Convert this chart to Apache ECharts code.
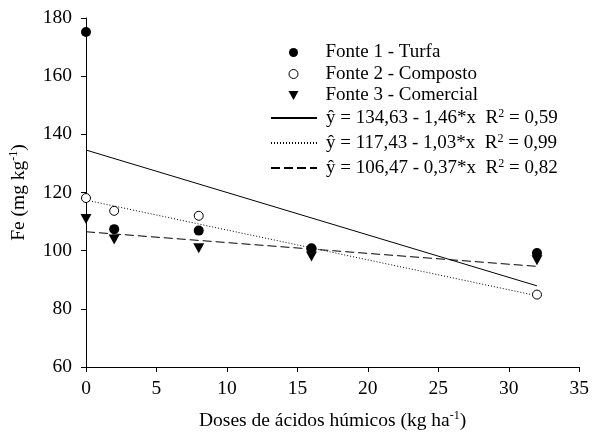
<!DOCTYPE html>
<html>
<head>
<meta charset="utf-8">
<script src="https://cdn.jsdelivr.net/npm/echarts@6/dist/echarts.min.js"></script>
<style>
  html, body { margin: 0; padding: 0; background: #fff; }
  #chart { width: 592px; height: 439px; }
</style>
</head>
<body>
<div id="chart"></div>
<script>
// doses de ácidos húmicos (kg/ha)
let doses = [0, 2, 8, 16, 32]
let fonte1 = [175.2, 107.4, 106.9, 100.8, 99.2]
let fonte2 = [118.1, 113.7, 112.0, 100.6, 84.9]
let fonte3 = [110.9, 103.8, 100.8, 98.0, 96.7]

let retaX = [0, 32]
let reta1 = [134.6, 87.9]
let reta2 = [117.4, 84.5]
let reta3 = [106.5, 94.6]

let nomesFonte = ['Fonte 1 - Turfa', 'Fonte 2 - Composto', 'Fonte 3 - Comercial']
let nomesReta = [
  'ŷ = 134,63 - 1,46*x  R2 = 0,59',
  'ŷ = 117,43 - 1,03*x  R2 = 0,99',
  'ŷ = 106,47 - 0,37*x  R2 = 0,82'
]

const serif = '"Liberation Serif", "Times New Roman", serif'
const pares = (xs, ys) => xs.map((x, i) => [x, ys[i]])

let triangulo = 'path://M0,0L10,0L5,9Z'

// estilos de texto do legend (rich)
let richLegenda = {
  a: { fontFamily: serif, fontSize: 19, color: '#000', lineHeight: 18, padding: [0, 0, 0, 4] },
  b: { fontFamily: serif, fontSize: 19, color: '#000', lineHeight: 18 },
  s: { fontFamily: serif, fontSize: 12, color: '#000', lineHeight: 18, padding: [0, 0, 8, 0] }
}

let option = {
  animation: false,
  backgroundColor: '#fff',
  textStyle: { fontFamily: serif, color: '#000' },
  grid: { left: 86, right: 11, top: 18, bottom: 72, containLabel: false },
  legend: [
    {
      data: [
        { name: nomesFonte[0], icon: 'circle', itemStyle: { color: '#000', borderWidth: 0 } },
        { name: nomesFonte[1], icon: 'circle', itemStyle: { color: '#fff', borderColor: '#000', borderWidth: 1 } },
        { name: nomesFonte[2], icon: triangulo, itemStyle: { color: '#000', borderWidth: 0 } }
      ],
      orient: 'vertical',
      // o símbolo fica centrado na caixa de 46px; a borda esquerda do grupo é a do símbolo
      left: 288.5,
      top: 43,
      padding: 0,
      itemWidth: 46,
      itemHeight: 9,
      itemGap: 2.5,
      selectedMode: false,
      formatter: function (nome) {
        return '{a|' + nome + '}'
      },
      textStyle: { fontFamily: serif, fontSize: 19, color: '#000', rich: richLegenda }
    },
    {
      data: nomesReta,
      orient: 'vertical',
      left: 270,
      top: 108,
      padding: 0,
      itemWidth: 46,
      itemHeight: 9,
      itemGap: 5,
      selectedMode: false,
      itemStyle: { opacity: 0 },
      formatter: function (nome) {
        let p = nome.split('R2')
        return '{a|' + p[0] + 'R}{s|2}{b|' + p[1] + '}'
      },
      textStyle: { fontFamily: serif, fontSize: 19, color: '#000', rich: richLegenda }
    }
  ],
  xAxis: {
    type: 'value',
    min: 0,
    max: 35,
    interval: 5,
    name: '{a|Doses de ácidos húmicos (kg ha}{s|-1}{a|)}',
    nameLocation: 'middle',
    nameGap: 43,
    nameTextStyle: {
      rich: {
        a: { fontFamily: serif, fontSize: 19.5, color: '#000' },
        s: { fontFamily: serif, fontSize: 12, color: '#000', padding: [0, 0, 9, 0] }
      }
    },
    axisLine: { lineStyle: { color: '#000', width: 1 } },
    axisTick: { length: 5, lineStyle: { color: '#000' } },
    axisLabel: { color: '#000', fontFamily: serif, fontSize: 19.5, margin: 12 },
    splitLine: { show: false }
  },
  yAxis: {
    type: 'value',
    min: 60,
    max: 180,
    interval: 20,
    name: '{a|Fe (mg kg}{s|-1}{a|)}',
    nameLocation: 'middle',
    nameGap: 57,
    nameTextStyle: {
      rich: {
        a: { fontFamily: serif, fontSize: 19.5, color: '#000' },
        s: { fontFamily: serif, fontSize: 12, color: '#000', padding: [0, 0, 9, 0] }
      }
    },
    axisLine: { show: true, lineStyle: { color: '#000', width: 1 } },
    axisTick: { show: true, length: 5, lineStyle: { color: '#000' } },
    axisLabel: { color: '#000', fontFamily: serif, fontSize: 19.5, margin: 14 },
    splitLine: { show: false }
  },
  series: [
    {
      name: nomesReta[0], type: 'line', data: pares(retaX, reta1),
      symbol: 'none', z: 2,
      lineStyle: { color: '#000', width: 1, type: 'solid' },
      itemStyle: { color: '#000' }
    },
    {
      name: nomesReta[1], type: 'line', data: pares(retaX, reta2),
      symbol: 'none', z: 2,
      lineStyle: { color: '#000', width: 1, type: [1, 2] },
      itemStyle: { color: '#000' }
    },
    {
      name: nomesReta[2], type: 'line', data: pares(retaX, reta3),
      symbol: 'none', z: 2,
      lineStyle: { color: '#000', width: 1, type: [9, 4] },
      itemStyle: { color: '#000' }
    },
    {
      name: nomesFonte[0], type: 'scatter', data: pares(doses, fonte1),
      symbol: 'circle', symbolSize: 10, z: 5,
      itemStyle: { color: '#000', opacity: 1 }
    },
    {
      name: nomesFonte[1], type: 'scatter', data: pares(doses, fonte2),
      symbol: 'circle', symbolSize: 9, z: 4,
      itemStyle: { color: '#fff', borderColor: '#000', borderWidth: 1, opacity: 1 }
    },
    {
      name: nomesFonte[2], type: 'scatter', data: pares(doses, fonte3),
      symbol: triangulo, symbolSize: [11, 10], z: 3,
      itemStyle: { color: '#000', opacity: 1 }
    }
  ]
}

let myChart = echarts.init(document.getElementById('chart'))
myChart.setOption(option)
window.addEventListener('resize', function () {
  myChart.resize()
})
</script>
</body>
</html>
